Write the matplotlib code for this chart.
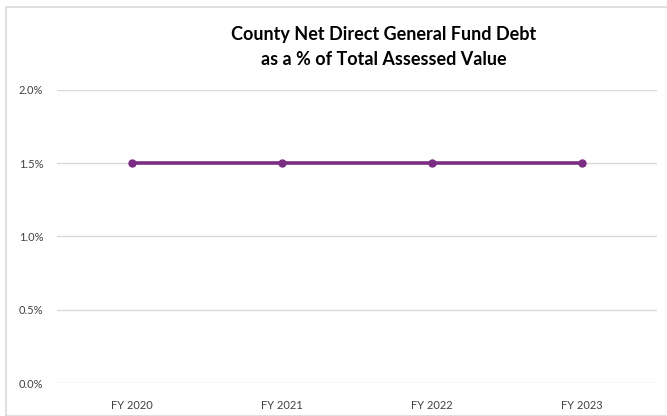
import matplotlib
matplotlib.use("Agg")
import matplotlib.pyplot as plt
from matplotlib.patches import Rectangle
from matplotlib.ticker import FuncFormatter

categories = ["FY 2020", "FY 2021", "FY 2022", "FY 2023"]
values = [1.5, 1.5, 1.5, 1.5]
yticks = [0.0, 0.5, 1.0, 1.5, 2.0]

W, H = 667, 416
fig = plt.figure(figsize=(W/100, H/100), dpi=100)
fig.patch.set_facecolor("white")
fig.patches.append(Rectangle((6/W, 0), 1.2, 1 - 7/H, transform=fig.transFigure,
                             fill=False, edgecolor="#d9d9d9", linewidth=1.2))

left, right, top, bottom = 57, 657, 90, 383
ax = fig.add_axes([left/W, 1 - bottom/H, (right-left)/W, (bottom-top)/H])
x = list(range(len(categories)))
ax.plot(x, values, color="#7B2C83", linewidth=2.6, marker="o", markersize=5,
        markerfacecolor="#7B2C83", markeredgecolor="#7B2C83", zorder=3)
ax.set_xlim(-0.5, len(categories) - 0.5)
ax.set_ylim(0, 2.0)
ax.set_yticks(yticks)
ax.yaxis.set_major_formatter(FuncFormatter(lambda v, p: f"{v:.1f}%"))
ax.set_xticks(x)
ax.set_xticklabels(categories)
ax.grid(axis="y", color="#d9d9d9", linewidth=1)
ax.set_axisbelow(True)
for s in ax.spines.values():
    s.set_visible(False)
ax.tick_params(axis="both", length=0, labelsize=8, labelcolor="#404040")
ax.tick_params(axis="y", pad=10)
ax.tick_params(axis="x", pad=12)
for lab in ax.get_xticklabels() + ax.get_yticklabels():
    lab.set_family("Lato")

fig.text(384/W, 1 - 47/H, "County Net Direct General Fund Debt\nas a % of Total Assessed Value",
         ha="center", va="center", fontsize=13, fontweight="bold", family="Lato",
         linespacing=1.55, color="#000000")

fig.savefig("out.png", dpi=100)
